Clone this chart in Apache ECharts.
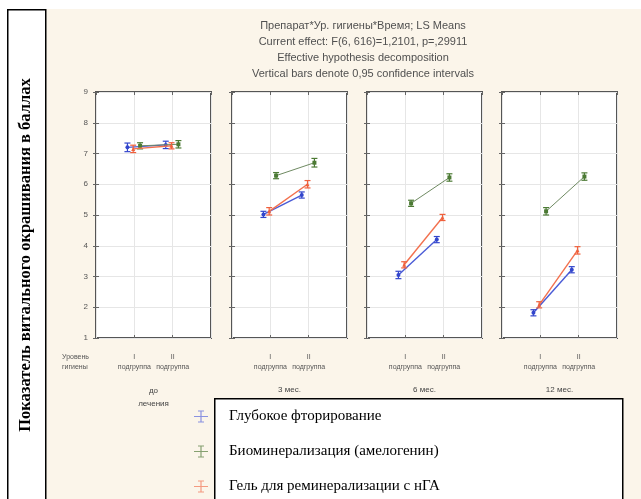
<!DOCTYPE html>
<html><head><meta charset="utf-8">
<script src="https://cdn.jsdelivr.net/npm/echarts@6/dist/echarts.min.js"></script>
<style>html,body{margin:0;padding:0;background:#fff}#c{width:641px;height:499px}</style>
</head><body><div id="c"></div>
<script>
const periods = ['до\nлечения', '3 мес.', '6 мес.', '12 мес.'];
const subgroups = ['I\nподгруппа', 'II\nподгруппа'];
const drugs = ['Глубокое фторирование', 'Биоминерализация (амелогенин)', 'Гель для реминерализации с нГА'];
const yTicks = [1, 2, 3, 4, 5, 6, 7, 8, 9];
// means per period: [I подгруппа, II подгруппа]
const fluorMeans  = [[7.20, 7.28], [5.02, 5.65], [3.05, 4.20], [1.82, 3.22]];
const biominMeans = [[7.25, 7.30], [6.28, 6.70], [5.38, 6.22], [5.12, 6.25]];
const gelMeans    = [[7.15, 7.25], [5.12, 6.00], [3.38, 4.92], [2.08, 3.85]];
// 95% CI half-widths
const fluorCI  = [[0.14, 0.12], [0.10, 0.10], [0.12, 0.10], [0.10, 0.10]];
const biominCI = [[0.10, 0.12], [0.10, 0.14], [0.10, 0.12], [0.12, 0.12]];
const gelCI    = [[0.12, 0.10], [0.12, 0.12], [0.10, 0.10], [0.10, 0.12]];

const meansAll = [fluorMeans, biominMeans, gelMeans];
const ciAll = [fluorCI, biominCI, gelCI];
const colors = ['#3346cc', '#4c7a34', '#f0603c'];
const lineColors = ['#4a5bd6', '#6f8a62', '#f2704e'];
const symbols = ['circle', 'rect', 'triangle'];
const jitter = [-0.18, 0.15, -0.03];

const panelLeft = [96, 232, 367, 502];
const panelW = 115, panelTop = 92, panelH = 246;

const chart = echarts.init(document.getElementById('c'));
const grids = [], xAxes = [], yAxes = [], series = [];
const lblFont = 'Liberation Sans';
periods.forEach((p, g) => {
  grids.push({left: panelLeft[g], top: panelTop, width: panelW, height: panelH, show: true,
    backgroundColor: '#ffffff', borderColor: '#555', borderWidth: 2});
  xAxes.push({type: 'value', gridIndex: g, min: 0, max: 3, interval: 1,
    axisLine: {show: false},
    axisTick: {show: true, inside: true, length: 3, lineStyle: {color: '#666'}},
    splitLine: {show: true, lineStyle: {color: '#e6e6e6', width: 1}},
    axisLabel: {show: true, showMinLabel: false, showMaxLabel: false, fontSize: 7, color: '#555',
      fontFamily: lblFont, lineHeight: 10, margin: 14,
      formatter: v => (v === 1 || v === 2) ? subgroups[v - 1] : ''},
    name: p, nameLocation: 'middle', nameGap: g === 0 ? 46 : 45,
    nameTextStyle: {fontSize: 8, color: '#444', fontFamily: lblFont, lineHeight: 13}});
  xAxes.push({type: 'value', gridIndex: g, min: 0, max: 3, interval: 1, position: 'top',
    axisLine: {show: false}, splitLine: {show: false}, axisLabel: {show: false},
    axisTick: {show: true, inside: true, length: 3, lineStyle: {color: '#666'}}});
  yAxes.push({type: 'value', gridIndex: g, min: 1, max: 9, interval: 1,
    axisLine: {show: false},
    axisTick: {show: true, inside: true, length: 3, lineStyle: {color: '#666'}},
    splitLine: {show: true, lineStyle: {color: '#e6e6e6', width: 1}},
    axisLabel: {show: g === 0, fontSize: 8, color: '#555', fontFamily: lblFont, margin: 8,
      formatter: v => yTicks.includes(v) ? String(v) : ''}});
  yAxes.push({type: 'value', gridIndex: g, min: 1, max: 9, interval: 1, position: 'right',
    axisLine: {show: false}, splitLine: {show: false}, axisLabel: {show: false},
    axisTick: {show: true, inside: true, length: 3, lineStyle: {color: '#666'}}});
  drugs.forEach((d, k) => {
    const pts = meansAll[k][g].map((m, i) => [i + 1 + jitter[k], m, m - ciAll[k][g][i], m + ciAll[k][g][i]]);
    series.push({type: 'line', name: d, xAxisIndex: 2 * g, yAxisIndex: 2 * g,
      data: pts.map(q => [q[0], q[1]]), symbol: symbols[k], symbolSize: 4,
      itemStyle: {color: colors[k]}, lineStyle: {color: lineColors[k], width: k === 1 ? 1 : 1.4},
      z: 3 + k, animation: false});
    series.push({type: 'custom', name: d, xAxisIndex: 2 * g, yAxisIndex: 2 * g, data: pts,
      z: 4 + k, animation: false,
      renderItem: (params, api) => {
        const x = api.value(0);
        const lo = api.coord([x, api.value(2)]);
        const hi = api.coord([x, api.value(3)]);
        const c = 3;
        const st = {stroke: colors[k], lineWidth: 1.2};
        return {type: 'group', children: [
          {type: 'line', shape: {x1: lo[0], y1: lo[1], x2: hi[0], y2: hi[1]}, style: st},
          {type: 'line', shape: {x1: lo[0] - c, y1: lo[1], x2: lo[0] + c, y2: lo[1]}, style: st},
          {type: 'line', shape: {x1: hi[0] - c, y1: hi[1], x2: hi[0] + c, y2: hi[1]}, style: st}
        ]};
      }});
  });
});

const icon = 'path://M0,6.4h14v1.2h-14z M6.4,1h1.2v12h-1.2z M4,1h6v1h-6z M4,12h6v1h-6z';
chart.setOption({
  backgroundColor: '#ffffff',
  title: {text: 'Препарат*Ур. гигиены*Время; LS Means\nCurrent effect: F(6, 616)=1,2101, p=,29911\nEffective hypothesis decomposition\nVertical bars denote 0,95 confidence intervals',
    left: 358, textAlign: 'center', top: 13,
    textStyle: {fontSize: 11, fontWeight: 'normal', color: '#505050', fontFamily: lblFont, lineHeight: 16}},
  grid: grids, xAxis: xAxes, yAxis: yAxes, series: series,
  legend: {orient: 'vertical', left: 189, top: 404, itemGap: 20, itemWidth: 14, itemHeight: 14,
    data: drugs.map((d, k) => ({name: d, icon: icon, itemStyle: {color: ['#8a92e0', '#86a070', '#f49a80'][k]}})),
    textStyle: {fontFamily: 'Liberation Serif', fontSize: 15, color: '#000', padding: [0, 0, 0, 16]},
    selectedMode: false},
  graphic: [
    {type: 'rect', left: 45, top: 9, z: -10, shape: {width: 596, height: 490}, style: {fill: '#fbf5ea'}},
    {type: 'rect', left: 7, top: 9, z: 1, shape: {width: 38, height: 495}, style: {fill: '#ffffff', stroke: '#000', lineWidth: 1.5}},
    {type: 'text', x: 26, y: 255, rotation: Math.PI / 2, z: 2,
      style: {text: 'Показатель витального окрашивания в баллах', font: 'bold 16.5px "Liberation Serif"', fill: '#000', textAlign: 'center', textVerticalAlign: 'middle'}},
    {type: 'rect', left: 214, top: 398, z: 1, shape: {width: 408, height: 108}, style: {fill: '#ffffff', stroke: '#000', lineWidth: 1.5}},
    {type: 'text', x: 62, y: 352, z: 2, style: {text: 'Уровень\nгигиены', font: '7px "Liberation Sans"', fill: '#555', lineHeight: 10}}
  ]
});
</script></body></html>
